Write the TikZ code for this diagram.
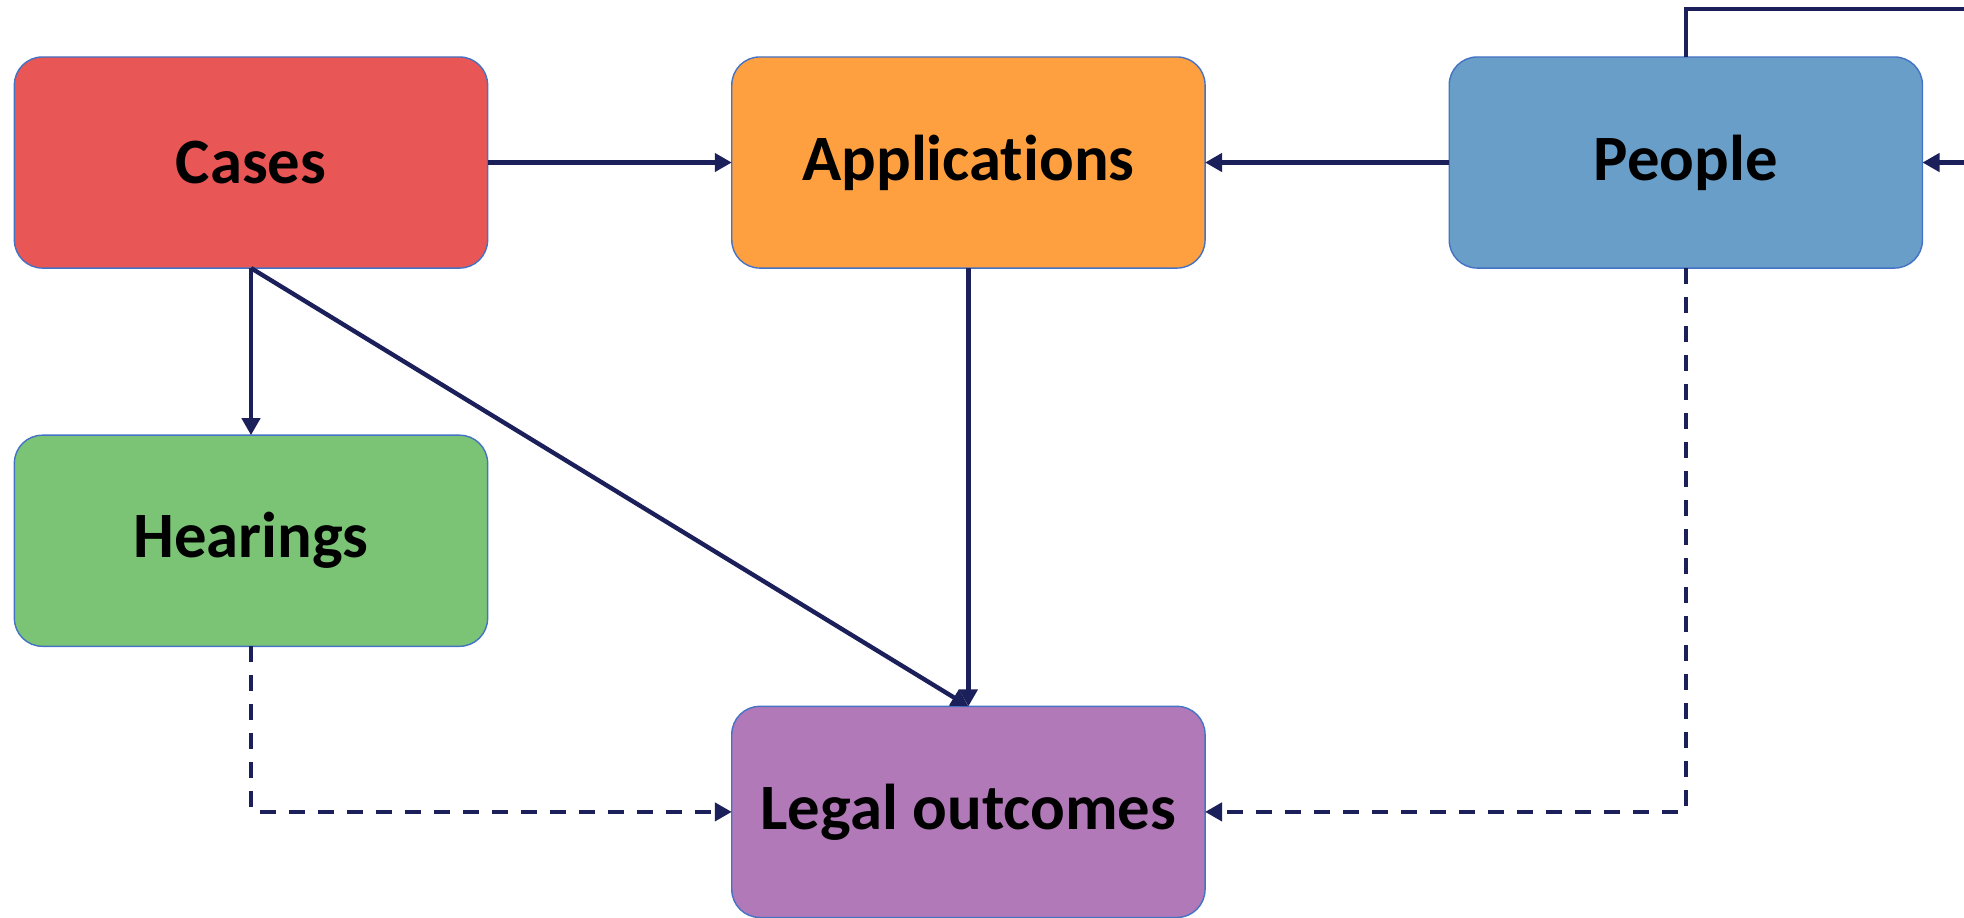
\documentclass[tikz,border=0pt]{standalone}
\usepackage{fontspec}
\setmainfont{Carlito}[Ligatures=CommonOff]
\usepackage{xcolor}
\usepackage{tikz}
\usetikzlibrary{arrows.meta, positioning}
\definecolor{CaseRed}{HTML}{E85656}
\definecolor{AppOrange}{HTML}{FFA040}
\definecolor{PeopleBlue}{HTML}{689EC7}
\definecolor{HearGreen}{HTML}{7BC476}
\definecolor{LegalPurple}{HTML}{B279B8}
\definecolor{EdgeBlue}{HTML}{4472C4}
\definecolor{FlowNavy}{HTML}{1B1F5A}
\tikzset{
    tablebox/.style={rectangle, rounded corners=0.28cm, minimum width=4.73cm, minimum height=2.11cm,
        text centered, draw=EdgeBlue, line width=0.4pt, outer sep=0pt,
        font=\fontsize{18.4}{22}\selectfont\bfseries},
    linkarrow/.style={-{Triangle[length=0.17cm, width=0.18cm]}, line width=1.25pt, FlowNavy},
    weaklink/.style={linkarrow, dash pattern=on 0.16cm off 0.13cm},
}

\begin{document}
\begin{tikzpicture}[x=0.01cm, y=-0.01cm, node distance=2.44cm and 2.44cm]
    \useasboundingbox (0,0) rectangle (1964,917);

    % Top row of tables
    \node[tablebox, fill=CaseRed] (cases) at (251,162.5) {Cases};
    \node[tablebox, fill=AppOrange, right=of cases] (applications) {Applications};
    \node[tablebox, fill=PeopleBlue, right=of applications] (people) {People};

    % Lower tables
    \node[tablebox, fill=HearGreen, below=1.67cm of cases] (hearings) {Hearings};
    \node[tablebox, fill=LegalPurple, below=4.38cm of applications] (legal) {Legal outcomes};

    % Loop leaves the picture on the right
    \coordinate (loopout) at (2100,9);

    % Solid links
    \draw[linkarrow] (cases) -- (applications);
    \draw[linkarrow] (people) -- (applications);
    \draw[linkarrow] (cases.south) -- (hearings.north);
    \draw[linkarrow] (cases.south) -- (legal.north);
    \draw[linkarrow] (applications.south) -- (legal.north);
    \draw[linkarrow] (people.north) |- (loopout) |- (people.east);

    % Dashed links
    \draw[weaklink] (hearings.south) |- (legal.west);
    \draw[weaklink] (people.south) |- (legal.east);
\end{tikzpicture}
\end{document}
